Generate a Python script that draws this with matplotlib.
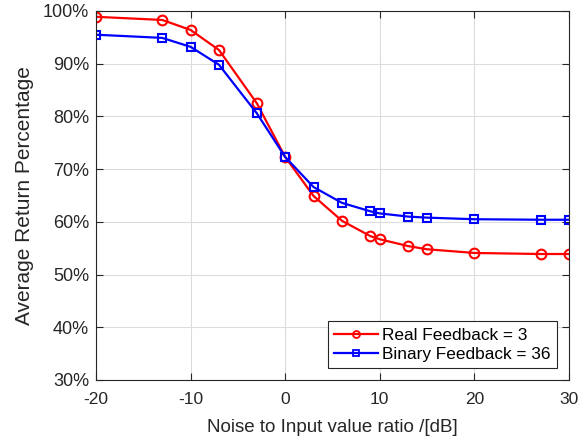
import matplotlib
matplotlib.use("Agg")
import matplotlib.pyplot as plt
from matplotlib.ticker import FuncFormatter
from matplotlib.lines import Line2D

plt.rcParams['font.family'] = ['Liberation Sans', 'DejaVu Sans']
plt.rcParams['axes.unicode_minus'] = False

x = [-20, -13, -10, -7, -3, 0, 3, 6, 9, 10, 13, 15, 20, 27, 30]
real_fb = [98.9, 98.3, 96.4, 92.6, 82.5, 72.3, 64.9, 60.2, 57.3, 56.7, 55.4, 54.8, 54.1, 53.9, 53.9]
binary_fb = [95.5, 94.9, 93.2, 89.8, 80.6, 72.3, 66.6, 63.6, 62.0, 61.6, 61.0, 60.8, 60.5, 60.4, 60.4]
xticks = [-20, -10, 0, 10, 20, 30]
yticks = [30, 40, 50, 60, 70, 80, 90, 100]

fig = plt.figure(figsize=(5.84, 4.45), dpi=100)
ax = fig.add_axes([96/584, 1-380/445, (569-96)/584, (380-11)/445])

ax.plot(x, real_fb, color='#ff0000', marker='o', markersize=7, markerfacecolor='none',
        markeredgewidth=1.5, linewidth=1.6)
ax.plot(x, binary_fb, color='#0000ff', marker='s', markersize=5.5, markerfacecolor='none',
        markeredgewidth=1.5, linewidth=1.6)

ax.set_xlim(-20, 30)
ax.set_ylim(30, 100)
ax.set_xticks(xticks)
ax.set_xticklabels([str(t) for t in xticks])
ax.set_yticks(yticks)
ax.yaxis.set_major_formatter(FuncFormatter(lambda v, p: f"{int(v)}%"))
ax.grid(True, color='#dcdcdc', linewidth=0.8)
ax.set_axisbelow(True)
ax.tick_params(direction='in', top=True, right=True, labelsize=12.5, colors='#262626', length=5)
ax.tick_params(axis='x', pad=9)
ax.tick_params(axis='y', pad=5, labelsize=13)
for s in ax.spines.values():
    s.set_color('#262626')
    s.set_linewidth(0.8)
ax.set_xlabel('Noise to Input value ratio /[dB]', fontsize=13.5, color='#262626', labelpad=8)
ax.set_ylabel('Average Return Percentage', fontsize=15, color='#262626', labelpad=6)

handles = [
    Line2D([], [], color='#ff0000', marker='o', markersize=5, markerfacecolor='none',
           markeredgewidth=1.3, linewidth=1.6),
    Line2D([], [], color='#0000ff', marker='s', markersize=4.5, markerfacecolor='none',
           markeredgewidth=1.3, linewidth=1.6),
]
leg = ax.legend(handles, ['Real Feedback = 3', 'Binary Feedback = 36'], loc='lower right',
                fontsize=12.4, frameon=True, fancybox=False, edgecolor='#262626', framealpha=1,
                borderpad=0.35, handlelength=2.55, handletextpad=0.25, labelspacing=0.25,
                borderaxespad=0.7)
leg.get_frame().set_linewidth(0.8)

fig.savefig('out.png', dpi=100)
